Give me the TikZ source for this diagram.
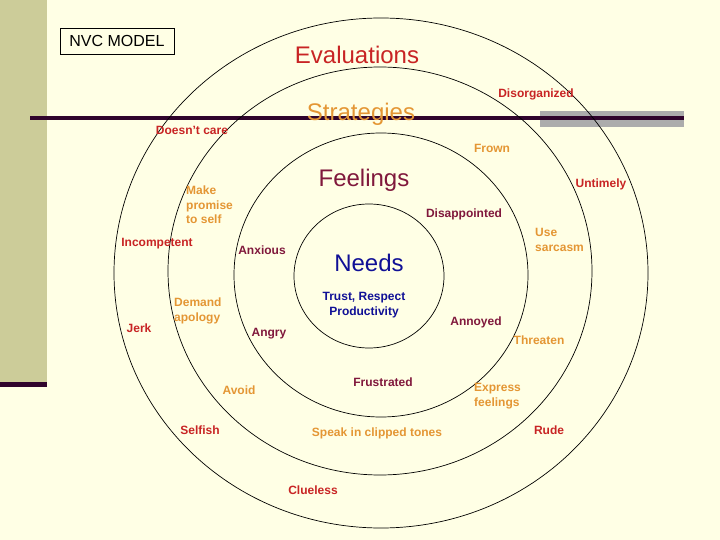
\documentclass[tikz,border=0pt]{standalone}
\usepackage{fontspec}
\setmainfont{Liberation Sans}
\definecolor{paper}{RGB}{255,255,229}
\definecolor{khaki}{RGB}{204,204,153}
\definecolor{darkrule}{RGB}{48,4,44}
\definecolor{evalred}{RGB}{200,36,36}
\definecolor{stratorange}{RGB}{228,150,52}
\definecolor{feelmaroon}{RGB}{128,24,60}
\definecolor{needblue}{RGB}{16,16,150}

\begin{document}
\begin{tikzpicture}[x=1pt,y=-1pt,line cap=round,
  big/.style={font=\fontsize{24}{26}\selectfont,inner sep=0pt},
  word/.style={font=\bfseries\fontsize{12}{14.5}\selectfont,inner sep=0pt},
  ring/.style={black,line width=.7pt}]
  \useasboundingbox (0,0) rectangle (720,540);
  \fill[paper] (0,0) rectangle (720,540);
  \fill[khaki] (0,0) rectangle (47,382);
  \fill[darkrule] (0,382) rectangle (47,387);
  \fill[gray!65] (540,111) rectangle (684,127);
  \draw[darkrule,line width=4pt,line cap=butt] (30,118) -- (684,118);

  % the four rings
  \draw[ring] (381,273) ellipse [x radius=267pt,y radius=255pt];
  \draw[ring] (380,271) ellipse [x radius=212pt,y radius=204pt];
  \draw[ring] (381,275) ellipse [x radius=147pt,y radius=142pt];
  \draw[ring] (369,276) ellipse [x radius=75pt,y radius=72pt];

  \node[draw,line width=.8pt,minimum width=114pt,minimum height=26pt,inner sep=0pt,
    font=\fontsize{16}{18}\selectfont] (model) at (117,41) {NVC MODEL};

  \node[big,evalred] (evaluations) at (357,55) {Evaluations};
  \node[big,stratorange] (strategies) at (361,114) {Strategies};
  \node[big,feelmaroon] (feelings) at (364,180) {Feelings};
  \node[big,needblue] (needs) at (369,263) {Needs};
  \node[word,needblue,align=center] (trust) at (364,305) {Trust, Respect\\Productivity};

  % evaluations ring
  \node[word,evalred] (disorganized) at (536,94) {Disorganized};
  \node[word,evalred] (doesntcare) at (192,130) {Doesn't care};
  \node[word,evalred] (untimely) at (601,184) {Untimely};
  \node[word,evalred] (incompetent) at (157,244) {Incompetent};
  \node[word,evalred] (jerk) at (139,328) {Jerk};
  \node[word,evalred] (selfish) at (200,430) {Selfish};
  \node[word,evalred] (rude) at (549,430) {Rude};
  \node[word,evalred] (clueless) at (313,490) {Clueless};

  % strategies ring
  \node[word,stratorange] (frown) at (492,148) {Frown};
  \node[word,stratorange,align=left,anchor=west] (promise) at (186,205) {Make\\promise\\to self};
  \node[word,stratorange,align=left,anchor=west] (sarcasm) at (535,240) {Use\\sarcasm};
  \node[word,stratorange,align=left,anchor=west] (demand) at (174,311) {Demand\\apology};
  \node[word,stratorange] (threaten) at (539,340) {Threaten};
  \node[word,stratorange,align=left,anchor=west] (express) at (474,396) {Express\\feelings};
  \node[word,stratorange] (avoid) at (239,390) {Avoid};
  \node[word,stratorange] (speak) at (377,433) {Speak in clipped tones};

  % feelings ring
  \node[word,feelmaroon] (disappointed) at (464,214) {Disappointed};
  \node[word,feelmaroon] (anxious) at (262,250) {Anxious};
  \node[word,feelmaroon] (angry) at (269,334) {Angry};
  \node[word,feelmaroon] (annoyed) at (476,322) {Annoyed};
  \node[word,feelmaroon] (frustrated) at (383,382) {Frustrated};
\end{tikzpicture}
\end{document}
